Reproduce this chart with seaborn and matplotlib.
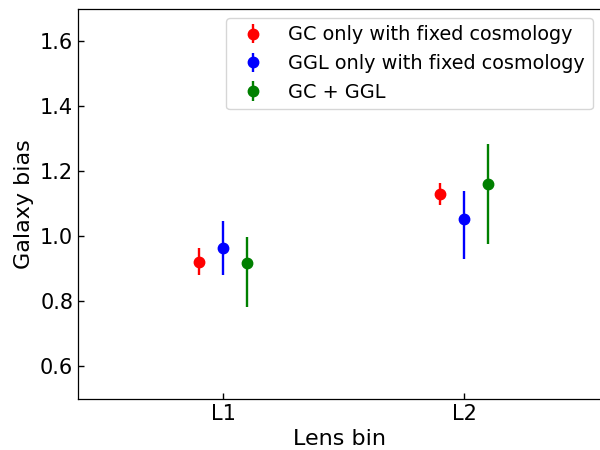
import matplotlib
matplotlib.use("Agg")
import matplotlib.pyplot as plt
import seaborn as sns
import numpy as np
import pandas as pd

bins = ["L1", "L2"]
series = ["GC only with fixed cosmology", "GGL only with fixed cosmology", "GC + GGL"]
colors = ["red", "blue", "green"]
bias = [[0.920, 1.131], [0.965, 1.054], [0.917, 1.160]]
err_lo = [[0.040, 0.036], [0.085, 0.125], [0.135, 0.185]]
err_hi = [[0.045, 0.034], [0.082, 0.087], [0.081, 0.125]]
offsets = [-0.1, 0.0, 0.1]

sns.set_theme(style="white")
plt.rcParams['font.family'] = ['DejaVu Sans']
plt.rcParams['text.color'] = 'black'
plt.rcParams['axes.labelcolor'] = 'black'
plt.rcParams['xtick.color'] = 'black'
plt.rcParams['ytick.color'] = 'black'

fig = plt.figure(figsize=(6, 4.5), dpi=100)
ax = fig.add_axes([0.13, 0.114, 0.872, 0.866])

x = np.arange(len(bins))
for s, c, b, lo, hi, off in zip(series, colors, bias, err_lo, err_hi, offsets):
    ax.errorbar(x + off, b, yerr=[lo, hi], fmt='o', color=c, ms=7.5,
                elinewidth=1.7, capsize=0, label=s)

ax.set_xlim(-0.602, 1.568)
ax.set_ylim(0.5, 1.7)
ax.set_xticks(x)
ax.set_xticklabels(bins)
ax.set_yticks([0.6, 0.8, 1.0, 1.2, 1.4, 1.6])
ax.tick_params(direction='in', labelsize=15, length=4, width=1, color='black',
               labelcolor='black', left=True, bottom=True)
for sp in ax.spines.values():
    sp.set_color('black')
    sp.set_linewidth(0.9)
ax.set_xlabel("Lens bin", fontsize=16, labelpad=4)
ax.set_ylabel("Galaxy bias", fontsize=16)
leg = ax.legend(loc='upper right', fontsize=13.9, frameon=True,
                borderaxespad=0.45)
for t in leg.get_texts():
    t.set_color('black')

fig.savefig("out.png", dpi=100)
